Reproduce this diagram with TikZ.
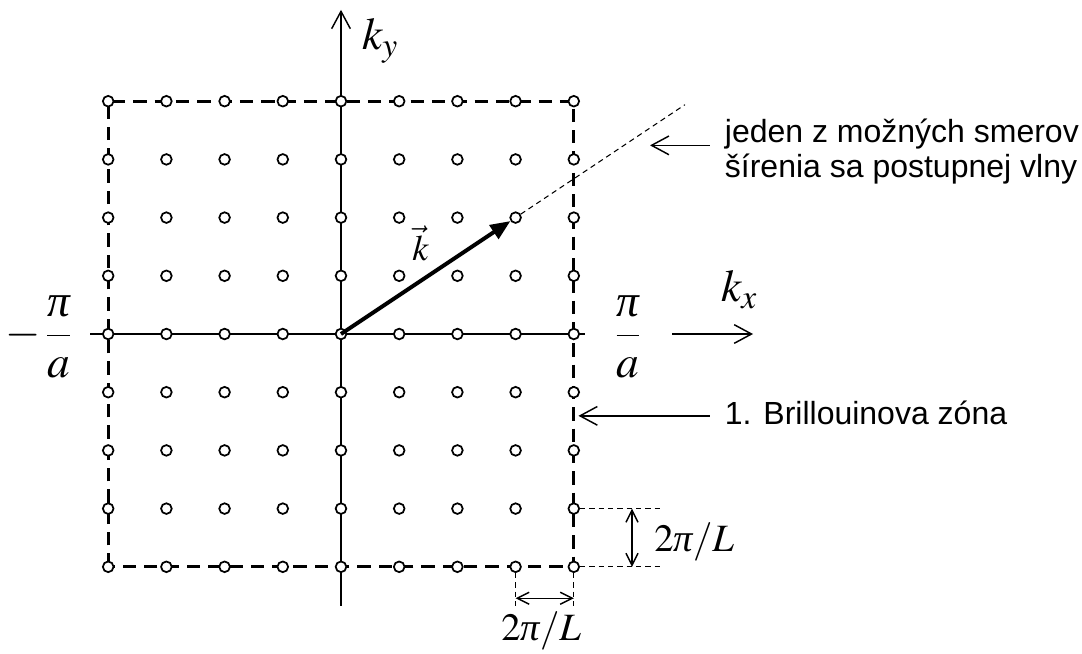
\documentclass[tikz,border=0pt]{standalone}
\usepackage{amsmath}
\usepackage{mathptmx}
\usepackage{fontspec}
\setmainfont{Liberation Serif}
\newfontfamily\labelfont{Liberation Sans}
\usetikzlibrary{arrows.meta, calc}
\newcommand{\ipi}{\text{\itshape π}}

\begin{document}
\begin{tikzpicture}[x=43.65pt, y=43.65pt,
    dot/.style={circle, draw, fill=white, line width=1.3pt, inner sep=0pt, minimum size=8pt},
    axis/.style={line width=1.5pt},
    barb/.style={line width=1.1pt, -{Straight Barb[length=13pt,width=14pt]}},
    zone/.style={line width=2.25pt, dash pattern=on 10pt off 6pt},
    aux/.style={line width=0.75pt, dash pattern=on 4pt off 3pt},
    dim/.style={line width=1.1pt, {Straight Barb[length=9pt,width=9pt]}-{Straight Barb[length=9pt,width=9pt]}},
    biglbl/.style={font=\fontsize{34}{40}\selectfont, inner sep=0pt},
    dimlbl/.style={font=\fontsize{29}{34}\selectfont, inner sep=0pt},
    txt/.style={font=\labelfont\fontsize{24}{26}\selectfont, align=left, inner xsep=11pt, inner ysep=0pt}
  ]
    \useasboundingbox (-5.859,-5.481) rectangle (12.732,5.739);

    % Axes
    \draw[axis] (-4.31,0) -- (4.19,0);
    \draw[axis, barb] (5.69,0) -- (7.08,0);
    \draw[axis, barb] (0,-4.67) -- (0,5.57);
    \node[biglbl, anchor=base west] (kx) at (6.53,0.55) {$k_x$};
    \node[biglbl, anchor=base west] (ky) at (0.36,4.88) {$k_y$};

    % Boundaries of the zone at -pi/a and pi/a
    \draw[zone] (-4,-4) rectangle (4,4);
    \node[biglbl, anchor=base] (left) at (-5.2,-0.22) {$-\,\dfrac{\ipi}{a}$};
    \node[biglbl, anchor=base] (right) at (4.93,-0.22) {$\dfrac{\ipi}{a}$};

    % Allowed wave vectors
    \foreach \i in {-4,...,4}
        \foreach \j in {-4,...,4}
            \node[dot] (p\i\j) at (\i,\j) {};

    % Wave vector and its direction
    \coordinate (dirend) at (5.91,3.94);
    \draw[line width=3pt, -{Triangle[length=15pt,width=12pt]}] (p00.center) -- (p32);
    \draw[aux] (p32) -- (dirend);
    \node[font=\fontsize{27}{32}\selectfont, inner sep=0pt, anchor=base west] (kvec) at (1.22,1.27) {$\vec{k}$};

    % Texts with their arrows
    \node[txt, anchor=north west] (dirtxt) at (6.34,3.70) {jeden z možných smerov\\šírenia sa postupnej vlny};
    \coordinate (dirtip) at (5.31,3.2);
    \draw[barb] ([yshift=4.5pt]dirtxt.west) -- ([yshift=4.5pt]dirtxt.west -| dirtip);
    \node[txt, anchor=base west] (zonetxt) at (6.34,-1.56) {1. Brillouinova zóna};
    \draw[barb, shorten >=3.5pt] ([yshift=-2pt]zonetxt.west) -- ([yshift=-2pt]zonetxt.west -| p40);

    % Spacing 2pi/L, vertical
    \coordinate (vy1) at (5.52,-3);
    \coordinate (vy2) at (5.52,-4);
    \draw[aux] (p4-3) -- (vy1);
    \draw[aux] (p4-4) -- (vy2);
    \coordinate (va) at (5,-3);
    \coordinate (vb) at (5,-4);
    \draw[dim] (va) -- (vb);
    \node[dimlbl, anchor=base west] (vlbl) at (5.38,-3.745) {$2\ipi/L$};

    % Spacing 2pi/L, horizontal
    \coordinate (hx1) at (3,-4.71);
    \coordinate (hx2) at (4,-4.71);
    \draw[aux] (p3-4) -- (hx1);
    \draw[aux] (p4-4) -- (hx2);
    \coordinate (ha) at (3,-4.54);
    \coordinate (hb) at (4,-4.54);
    \draw[dim] (ha) -- (hb);
    \node[dimlbl, anchor=base] (hlbl) at (3.44,-5.26) {$2\ipi/L$};
\end{tikzpicture}
\end{document}
